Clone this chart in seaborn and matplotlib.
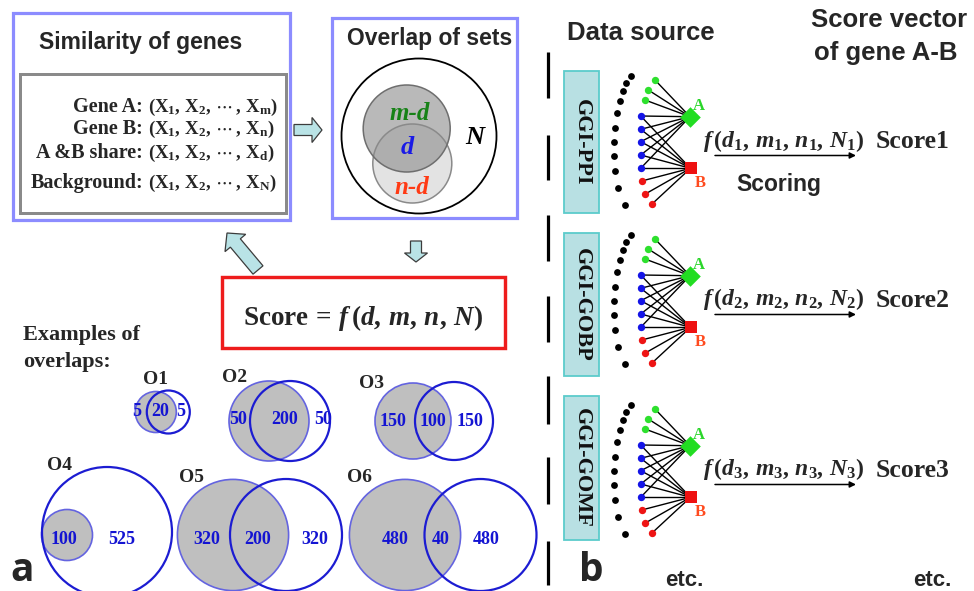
import matplotlib
matplotlib.use("Agg")
import matplotlib.pyplot as plt
from matplotlib.patches import Circle, Rectangle, FancyArrow
import seaborn as sns
import pandas as pd

# ---------------- data ----------------
gene_rows = ["Gene A:", "Gene B:", "A &B share:", "Background:"]
gene_subs = ["m", "n", "d", "N"]

overlap_names = ["O1", "O2", "O3", "O4", "O5", "O6"]
a_only = [5, 50, 150, 0, 320, 480]
shared = [20, 200, 100, 100, 200, 40]
b_only = [5, 50, 150, 525, 320, 480]

sources = ["GGI-PPI", "GGI-GOBP", "GGI-GOMF"]
score_names = ["Score1", "Score2", "Score3"]
source_index = ["1", "2", "3"]

n_background = 11
n_a_only = 3
n_shared = 5
n_b_only = 3

# ---------------- layout (pixel space) ----------------
W, H = 974, 591
venn_layout = [
    # gray circle (cx, cy, r), outline circle (cx, cy, r), label xs, label y, name xy
    dict(g=(155.8, 412, 20.5), w=(168.3, 412, 21.5), lx=(136.7, 160, 181), ly=412, nm=(155, 380)),
    dict(g=(269, 421, 40), w=(290, 421, 40), lx=(238.5, 285, 323.5), ly=420, nm=(235, 378)),
    dict(g=(413, 421, 38), w=(454, 421, 39), lx=(393.3, 433.3, 470), ly=421, nm=(372, 383)),
    dict(g=(67, 535, 25.5), w=(107, 532, 65), lx=(None, 63.7, 122), ly=540, nm=(60, 465)),
    dict(g=(233, 535, 55.6), w=(286, 535, 56), lx=(206.6, 257.6, 315), ly=540, nm=(191, 478)),
    dict(g=(405, 535, 55.6), w=(480.5, 535, 56), lx=(395.3, 440.8, 486.2), ly=540, nm=(360, 478)),
]

bg_xy = [(630.7, 76), (626, 82.5), (622.5, 90.5), (619.5, 100.5), (616.5, 112.5), (614.5, 128),
         (614, 142), (614, 156), (614.5, 171), (617.5, 187.5), (625, 204.5)][:n_background]
a_xy = [(655, 80), (648.3, 90), (645, 100)][:n_a_only]
s_xy = [(640.7, 116), (640.7, 129.3), (640.7, 141.7), (640.7, 155), (640.7, 168.3)][:n_shared]
b_xy = [(641.7, 181), (645.3, 194), (652, 204)][:n_b_only]
A_xy = (690, 116.7)
B_xy = (690.5, 168.3)
panel_dy = [0, 159, 329]
box_y = [(71, 213), (233, 376), (396, 540)]
dash_y = [(52, 98), (135, 180), (215, 261), (296, 342), (376, 424), (457, 504), (541, 585)]

# ---------------- style ----------------
sns.set_theme(style="white")
plt.rcParams["font.family"] = ["Liberation Sans", "DejaVu Sans"]
plt.rcParams["mathtext.fontset"] = "custom"
plt.rcParams["mathtext.rm"] = "Liberation Serif:bold"
plt.rcParams["mathtext.bf"] = "Liberation Serif:bold"
plt.rcParams["mathtext.it"] = "Liberation Serif:italic:bold"

SERIF = "Liberation Serif"
SANS = "Liberation Sans"
LAV = "#8c8cff"
ARROW_FC = "#b9e3e6"
BLUE_TXT = "#1414d2"

fig = plt.figure(figsize=(W / 100, H / 100), dpi=100)
ax = fig.add_axes([0, 0, 1, 1])


def px(v):
    return v * 72 / 100


# ---------------- panel a: similarity box ----------------
ax.add_patch(Rectangle((13, 13), 277, 207, fill=False, ec=LAV, lw=px(3.2)))
ax.add_patch(Rectangle((20, 74), 266, 139, fill=False, ec="#8a8a8a", lw=px(3)))
ax.text(140.5, 42, "Similarity of genes", family=SANS, weight="bold", fontsize=16.5,
        ha="center", va="center")
for row, sub, yb in zip(gene_rows, gene_subs, [112, 134, 158, 188]):
    ax.text(143, yb, row, family=SERIF, weight="bold", fontsize=14.5, ha="right", va="baseline")
    ax.text(148, yb, r"$\mathrm{(X_{1},\,X_{2},\,\cdots\,,\,X_{%s})}$" % sub, fontsize=13.5,
            ha="left", va="baseline")

# block arrows
ax.add_patch(FancyArrow(294, 130, 28, 0, width=11, head_width=25, head_length=10,
                        length_includes_head=True, fc=ARROW_FC, ec="#3c3c3c", lw=0.9))
ax.add_patch(FancyArrow(416, 241, 0, 21, width=11, head_width=23, head_length=9,
                        length_includes_head=True, fc=ARROW_FC, ec="#3c3c3c", lw=0.9))
ax.add_patch(FancyArrow(258, 270, -31, -37, width=13, head_width=27, head_length=13,
                        length_includes_head=True, fc=ARROW_FC, ec="#3c3c3c", lw=0.9))

# ---------------- overlap of sets ----------------
ax.add_patch(Rectangle((331.7, 18), 185, 200, fill=False, ec=LAV, lw=px(3.2)))
ax.text(430, 39, "Overlap of sets", family=SANS, weight="bold", fontsize=16.5,
        ha="center", va="center")
ax.add_patch(Circle((419, 136), 77.5, fill=False, ec="black", lw=1.3))
ax.add_patch(Circle((412.3, 163.5), 39.5, fc="#e3e3e3", ec="none"))
ax.add_patch(Circle((406.7, 128.5), 43.5, fc="#8e8e8e", alpha=0.62, ec="none"))
ax.add_patch(Circle((412.3, 163.5), 39.5, fill=False, ec="#8a8a8a", lw=1.1))
ax.add_patch(Circle((406.7, 128.5), 43.5, fill=False, ec="#6e6e6e", lw=1.1))
ax.text(410, 113, "m-d", family=SERIF, style="italic", weight="bold", fontsize=18,
        color="#178217", ha="center", va="center")
ax.text(407, 147, "d", family=SERIF, style="italic", weight="bold", fontsize=19,
        color="#1a1ae6", ha="center", va="center")
ax.text(412, 187, "n-d", family=SERIF, style="italic", weight="bold", fontsize=18,
        color="#ff3a14", ha="center", va="center")
ax.text(475, 137, "N", family=SERIF, style="italic", weight="bold", fontsize=19,
        color="black", ha="center", va="center")

# ---------------- score formula ----------------
ax.add_patch(Rectangle((221.7, 276.7), 283.3, 71.3, fill=False, ec="#ee1c1c", lw=px(3.4)))
ax.text(363, 325, r"$\mathrm{Score}\,=\,f\,(d,\,m,\,n,\,N)$", fontsize=19.5,
        ha="center", va="baseline")

# ---------------- examples of overlaps ----------------
ax.text(23, 335, "Examples of", family=SERIF, weight="bold", fontsize=16, ha="left", va="center")
ax.text(23, 362, "overlaps:", family=SERIF, weight="bold", fontsize=16, ha="left", va="center")
for name, ao, sh, bo, lay in zip(overlap_names, a_only, shared, b_only, venn_layout):
    gx, gy, gr = lay["g"]
    wx, wy, wr = lay["w"]
    ax.add_patch(Circle((gx, gy), gr, fc="#bfbfbf", ec="#6464e0", lw=1.2))
    ax.add_patch(Circle((wx, wy), wr, fill=False, ec="#1c1cd2", lw=1.6))
    for val, x in zip([ao, sh, bo], lay["lx"]):
        if val and x is not None:
            ax.text(x, lay["ly"], str(val), family=SERIF, weight="bold", fontsize=13,
                    color=BLUE_TXT, ha="center", va="center")
    ax.text(*lay["nm"], name, family=SERIF, weight="bold", fontsize=14,
            ha="center", va="center")

ax.text(22, 590, "a", family="Open Sans", weight="bold", fontsize=28, ha="center", va="bottom")

# ---------------- panel b ----------------
ax.text(641, 33, "Data source", family=SANS, weight="bold", fontsize=18.5, ha="center", va="center")
ax.text(889, 20, "Score vector", family=SANS, weight="bold", fontsize=18.5, ha="center", va="center")
ax.text(886, 53, "of gene A-B", family=SANS, weight="bold", fontsize=18.5, ha="center", va="center")

for y0, y1 in dash_y:
    ax.plot([547.5, 547.5], [y0, y1], color="black", lw=px(3.2), solid_capstyle="butt")

rows = []
for k, (src, sc, idx, dy, (by0, by1)) in enumerate(zip(sources, score_names, source_index,
                                                        panel_dy, box_y)):
    ax.add_patch(Rectangle((563.5, by0), 35.5, by1 - by0, fc="#b8e0e3", ec="#5ccbcb", lw=1.3))
    ax.text(581.5, (by0 + by1) / 2, src, family=SERIF, weight="bold", fontsize=16,
            rotation=270, ha="center", va="center", color="#111111")

    Ax, Ay = A_xy[0], A_xy[1] + dy
    Bx, By = B_xy[0], B_xy[1] + dy
    for x, y in a_xy + s_xy:
        ax.plot([x, Ax], [y + dy, Ay], color="black", lw=1.0, zorder=2)
    for x, y in s_xy + b_xy:
        ax.plot([x, Bx], [y + dy, By], color="black", lw=1.0, zorder=2)

    for group, pts in [("bg", bg_xy), ("a", a_xy), ("s", s_xy), ("b", b_xy)]:
        for x, y in pts:
            rows.append(dict(x=x, y=y + dy, group=group))
    rows.append(dict(x=Ax, y=Ay, group="A"))
    rows.append(dict(x=Bx, y=By, group="B"))

    ax.text(Ax + 8.5, Ay - 11, "A", family=SERIF, weight="bold", fontsize=12,
            color="#2bd62b", ha="center", va="center")
    ax.text(Bx + 9.5, By + 14.5, "B", family=SERIF, weight="bold", fontsize=12,
            color="#ff4a1e", ha="center", va="center")

    ax.annotate("", xy=(856, 155.5 + dy), xytext=(715, 155.5 + dy),
                arrowprops=dict(arrowstyle="-|>", color="black", lw=1.1,
                                mutation_scale=9, shrinkA=0, shrinkB=0))
    ax.text(783.5, 146.5 + dy,
            r"$f\,(d_{\mathit{%s}},\,m_{\mathit{%s}},\,n_{\mathit{%s}},\,N_{\mathit{%s}})$"
            % (idx, idx, idx, idx),
            fontsize=17, ha="center", va="baseline")
    ax.text(876, 148 + dy, sc, family=SERIF, weight="bold", fontsize=18.5,
            ha="left", va="baseline")

ax.text(779, 185, "Scoring", family=SANS, weight="bold", fontsize=16.5, ha="center", va="center")

nodes = pd.DataFrame(rows)
palette = {"bg": "black", "a": "#2ee02e", "s": "#1414e6", "b": "#ee1414",
           "A": "#22dd22", "B": "#ee1111"}
sizes = {"bg": 24, "a": 28, "s": 28, "b": 28, "A": 110, "B": 85}
markers = {"bg": "o", "a": "o", "s": "o", "b": "o", "A": "D", "B": "s"}
for g, sub in nodes.groupby("group"):
    sns.scatterplot(data=sub, x="x", y="y", color=palette[g], s=sizes[g],
                    marker=markers[g], linewidth=0, legend=False, ax=ax, zorder=3)

ax.text(684, 580, "etc.", family=SANS, weight="bold", fontsize=16, ha="center", va="center")
ax.text(932, 580, "etc.", family=SANS, weight="bold", fontsize=16, ha="center", va="center")
ax.text(591, 590, "b", family="Open Sans", weight="bold", fontsize=28, ha="center", va="bottom")

ax.set_xlim(0, W)
ax.set_ylim(H, 0)
ax.axis("off")
fig.savefig("out.png", dpi=100, facecolor="white")
